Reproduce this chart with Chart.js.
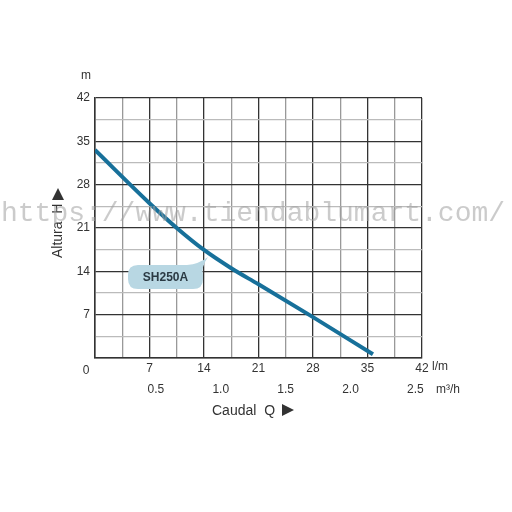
<!DOCTYPE html>
<html>
<head>
<meta charset="utf-8">
<script src="https://cdn.jsdelivr.net/npm/chart.js@4"></script>
<style>
  html,body{margin:0;padding:0;background:#fff;}
  #wrap{position:relative;width:512px;height:512px;}
</style>
</head>
<body>
<div id="wrap"><canvas id="chart" width="512" height="512"></canvas></div>
<script>
// curve: caudal (l/m) vs altura (m)
const flowLpm = [0, 7, 10.5, 14, 17.5, 21, 28, 35.7];
const headM   = [33.6, 25, 21, 17.45, 14.5, 11.9, 6.6, 0.6];
const m3hTicks = ['0.5', '1.0', '1.5', '2.0', '2.5'];
const seriesName = 'SH250A';
const watermark = 'https://www.tiendablumart.com/';

const FONT = '"Liberation Sans", Arial, sans-serif';
const major = v => Math.abs(v / 7 - Math.round(v / 7)) < 1e-6;

const extras = {
  id: 'extras',
  afterDatasetsDraw(chart){
    const { ctx, scales:{ x, y } } = chart;
    ctx.save();
    // bubble label
    const bx = 128, by = 265, bw = 75, bh = 24, r = 10;
    ctx.fillStyle = '#b8d7e3';
    ctx.beginPath();
    ctx.moveTo(bx + r, by);
    ctx.lineTo(bx + bw - 16, by);
    ctx.quadraticCurveTo(bx + bw - 4, by - 1, 208, 257);
    ctx.quadraticCurveTo(bx + bw - 2, by + 2, bx + bw, by + r);
    ctx.lineTo(bx + bw, by + bh - r);
    ctx.quadraticCurveTo(bx + bw, by + bh, bx + bw - r, by + bh);
    ctx.lineTo(bx + r, by + bh);
    ctx.quadraticCurveTo(bx, by + bh, bx, by + bh - r);
    ctx.lineTo(bx, by + r);
    ctx.quadraticCurveTo(bx, by, bx + r, by);
    ctx.fill();
    ctx.fillStyle = '#2b3a44';
    ctx.font = 'bold 12px ' + FONT;
    ctx.textAlign = 'center';
    ctx.textBaseline = 'middle';
    ctx.fillText(seriesName, bx + bw / 2, by + bh / 2 + 1);

    // axis extras
    ctx.fillStyle = '#333';
    ctx.font = '12px ' + FONT;
    ctx.fillText('m', 86, 76);
    ctx.fillText('0', 86, 371);
    ctx.textAlign = 'left';
    ctx.fillText('l/m', 432, 367);
    ctx.fillText('m³/h', 436, 390);
    ctx.textAlign = 'center';
    m3hTicks.forEach(t => {
      ctx.fillText(t, x.getPixelForValue(parseFloat(t) * 1000 / 60) - 4, 390);
    });
    ctx.font = '14px ' + FONT;
    ctx.textAlign = 'left';
    ctx.fillText('Caudal  Q', 212, 411);
    ctx.beginPath();
    ctx.moveTo(282, 404); ctx.lineTo(294, 410); ctx.lineTo(282, 416); ctx.closePath();
    ctx.fill();
    // Altura H rotated
    ctx.translate(58, 258);
    ctx.rotate(-Math.PI / 2);
    ctx.fillText('Altura  H', 0, 0);
    ctx.beginPath();
    ctx.moveTo(58, -6); ctx.lineTo(70, 0); ctx.lineTo(58, 6); ctx.closePath();
    ctx.fill();
    ctx.setTransform(1, 0, 0, 1, 0, 0);

    // watermark
    ctx.fillStyle = 'rgba(160,160,160,0.55)';
    ctx.font = '28px "Liberation Mono", "DejaVu Sans Mono", monospace';
    ctx.textAlign = 'left';
    ctx.textBaseline = 'alphabetic';
    ctx.fillText(watermark, 1, 221);
    ctx.restore();
  }
};

new Chart(document.getElementById('chart'), {
  type: 'line',
  data: {
    datasets: [{
      data: flowLpm.map((v, i) => ({ x: v, y: headM[i] })),
      borderColor: '#17709a',
      borderWidth: 4,
      pointRadius: 0,
      cubicInterpolationMode: 'monotone'
    }]
  },
  options: {
    responsive: false,
    animation: false,
    layout: { padding: { top: 98, right: 90, left: 0, bottom: 0 } },
    plugins: { legend: { display: false }, tooltip: { enabled: false } },
    scales: {
      x: {
        type: 'linear', min: 0, max: 42,
        afterFit: s => { s.height = 154; },
        border: { color: '#333', width: 1.5 },
        grid: {
          drawTicks: false,
          color: c => major(c.tick.value) ? '#333' : '#999',
          lineWidth: 1.3
        },
        ticks: {
          stepSize: 3.5, autoSkip: false, maxRotation: 0, padding: 3,
          color: '#333', font: { family: FONT, size: 12 },
          callback: v => (v > 0 && major(v)) ? String(v) : ''
        }
      },
      y: {
        type: 'linear', min: 0, max: 42,
        afterFit: s => { s.width = 95; },
        border: { color: '#333', width: 1.5 },
        grid: {
          drawTicks: false,
          color: c => major(c.tick.value) ? '#333' : '#bbb',
          lineWidth: 1.3
        },
        ticks: {
          stepSize: 3.5, autoSkip: false, padding: 5,
          color: '#333', font: { family: FONT, size: 12 },
          callback: v => (v > 0 && major(v)) ? String(v) : ''
        }
      }
    }
  },
  plugins: [extras]
});
</script>
</body>
</html>
